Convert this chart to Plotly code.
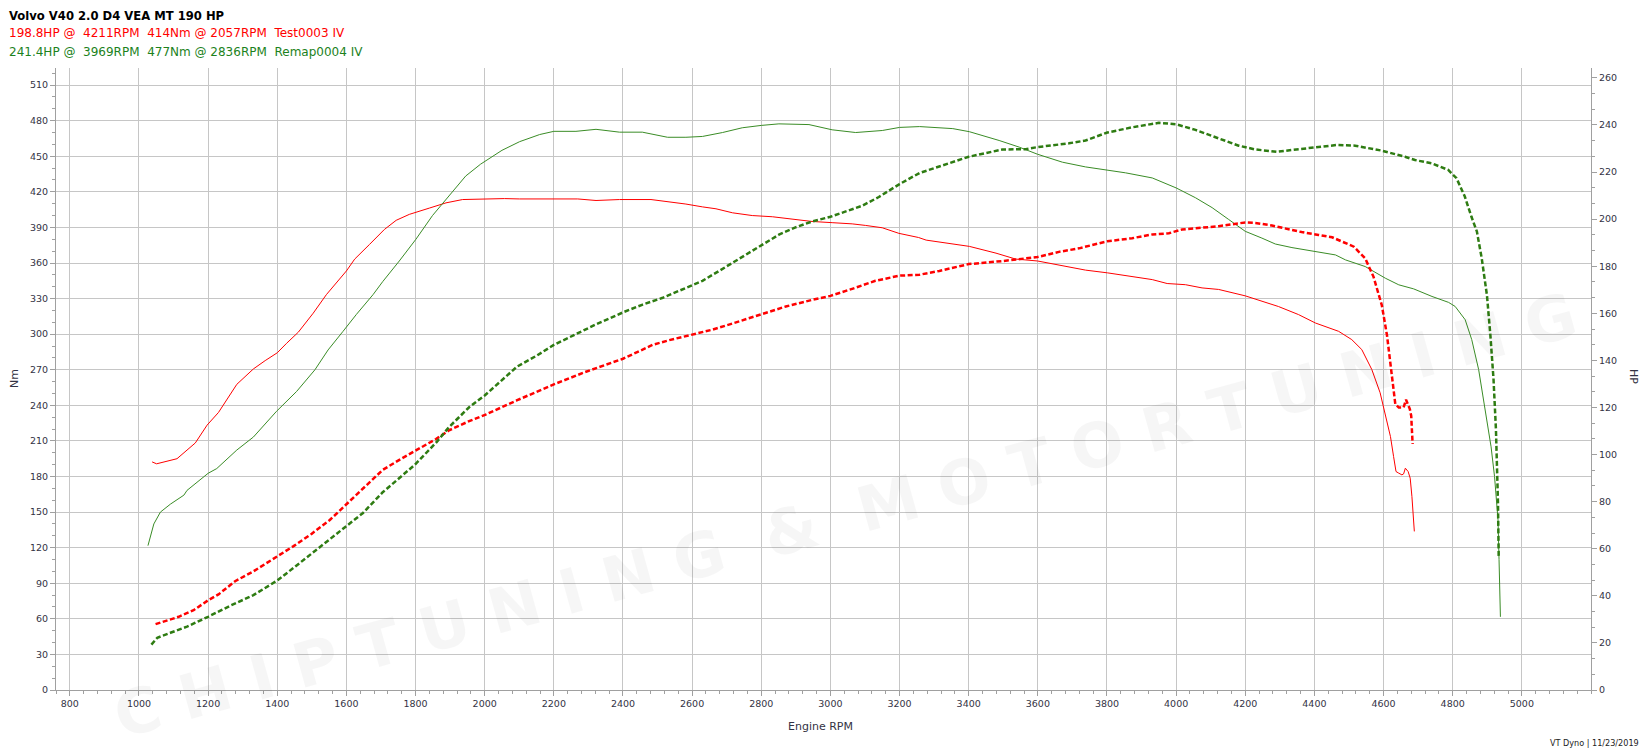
import plotly.graph_objects as go

# ---------------- data ----------------
# Test0003 (stock) torque, Nm
test_tq_rpm = [1038, 1051, 1110, 1139, 1163, 1197, 1230, 1283, 1331, 1365, 1400, 1427, 1461, 1504, 1542,
               1600, 1624, 1667, 1710, 1744, 1782, 1840, 1888, 1936, 2003, 2057, 2101, 2197, 2226, 2269,
               2322, 2390, 2481, 2534, 2582, 2630, 2669, 2717, 2774, 2832, 2890, 2947, 3005, 3063, 3101,
               3150, 3198, 3255, 3277, 3335, 3402, 3479, 3536, 3599, 3671, 3738, 3801, 3873, 3931, 3974,
               4027, 4075, 4123, 4200, 4248, 4296, 4354, 4403, 4470, 4508, 4537, 4566, 4590, 4605, 4620,
               4629, 4636, 4644, 4653, 4658, 4663, 4671, 4677, 4682, 4689]
test_tq_nm = [192.3, 190.7, 195.0, 202.7, 208.3, 223.3, 234.0, 257.7, 270.7, 277.7, 284.3, 292.3, 301.7, 317.7, 333.3,
              353.3, 363.3, 375.7, 388.3, 396.0, 401.0, 406.3, 410.7, 413.5, 414.0, 414.3, 414.0, 414.0, 413.5, 414.0,
              412.7, 413.5, 413.5, 411.7, 409.7, 407.3, 405.7, 402.3, 400.0, 399.0, 397.3, 395.0, 394.0, 393.0, 391.7,
              389.7, 385.0, 381.5, 379.3, 376.7, 374.0, 368.3, 363.3, 361.7, 357.7, 354.0, 351.7, 348.3, 346.0, 342.7,
              341.7, 339.0, 337.7, 332.3, 327.7, 323.3, 316.5, 309.4, 302.4, 295.4, 287.0, 270.2, 250.6, 231.0, 213.6,
              196.8, 184.2, 182.8, 181.4, 182.2, 187.0, 184.2, 178.6, 163.2, 133.7]

# Test0003 (stock) power, HP
test_hp_rpm = [1048, 1115, 1158, 1200, 1230, 1278, 1331, 1400, 1446, 1499, 1552, 1600, 1648, 1705, 1763,
               1801, 1859, 1897, 1955, 2003, 2094, 2200, 2293, 2400, 2486, 2534, 2600, 2660, 2717, 2800,
               2871, 2947, 3000, 3063, 3130, 3200, 3258, 3315, 3400, 3498, 3556, 3599, 3661, 3719, 3801,
               3873, 3931, 3979, 4017, 4075, 4123, 4200, 4229, 4277, 4315, 4363, 4412, 4451, 4514, 4547,
               4571, 4595, 4610, 4624, 4634, 4644, 4658, 4665, 4676, 4680, 4684]
test_hp = [28.0, 31.1, 33.9, 38.1, 40.6, 46.2, 50.4, 56.6, 61.0, 66.3, 72.2, 78.9, 85.6, 93.5, 98.6,
           101.9, 106.6, 110.3, 114.2, 117.0, 123.1, 129.8, 135.2, 140.7, 146.6, 148.6, 151.1, 153.1, 155.7, 159.5,
           162.9, 165.7, 167.4, 170.4, 173.8, 176.0, 176.4, 178.0, 180.9, 182.2, 183.0, 183.9, 186.1, 187.6, 190.6,
           191.9, 193.5, 194.0, 195.6, 196.5, 197.0, 198.6, 198.4, 197.3, 196.1, 194.5, 193.3, 192.3, 188.3, 183.3,
           175.5, 163.4, 150.6, 133.5, 121.4, 120.0, 120.0, 123.3, 119.3, 116.4, 104.5]

# Remap0004 torque, Nm
remap_tq_rpm = [1026, 1043, 1062, 1091, 1130, 1139, 1200, 1225, 1283, 1331, 1398, 1456, 1509, 1547, 1590,
                1629, 1677, 1705, 1753, 1801, 1849, 1897, 1945, 1988, 2050, 2101, 2159, 2200, 2264, 2322,
                2390, 2456, 2529, 2582, 2630, 2688, 2745, 2800, 2851, 2938, 3005, 3073, 3150, 3200, 3258,
                3354, 3402, 3488, 3546, 3599, 3671, 3738, 3801, 3854, 3931, 4000, 4056, 4104, 4152, 4200,
                4248, 4287, 4335, 4400, 4461, 4490, 4547, 4605, 4644, 4687, 4740, 4788, 4807, 4836, 4855,
                4875, 4889, 4904, 4911, 4921, 4931, 4934, 4936, 4938]
remap_tq_nm = [121.7, 140.0, 150.0, 156.7, 164.3, 168.3, 182.7, 186.7, 202.3, 213.3, 235.0, 251.7, 270.0, 286.7, 302.3,
               316.7, 333.3, 344.3, 361.7, 380.0, 400.0, 416.7, 433.3, 443.3, 455.0, 462.3, 468.3, 471.0, 471.0, 472.7,
               470.3, 470.3, 466.0, 466.0, 466.7, 470.0, 474.0, 476.0, 477.3, 476.7, 472.3, 470.0, 471.7, 474.3, 475.0,
               473.3, 470.7, 463.3, 457.7, 451.7, 445.0, 441.0, 438.3, 436.0, 431.7, 423.3, 415.0, 406.7, 396.7, 386.7,
               381.0, 376.0, 373.0, 370.0, 366.8, 362.6, 357.0, 347.2, 341.6, 338.2, 331.8, 326.8, 323.4, 312.2, 295.4,
               270.2, 245.0, 217.0, 205.0, 180.0, 143.6, 110.0, 87.5, 61.7]

# Remap0004 power, HP
remap_hp_rpm = [1036, 1053, 1091, 1139, 1200, 1264, 1331, 1400, 1456, 1513, 1600, 1648, 1705, 1798, 1859,
                1897, 1955, 2000, 2094, 2149, 2200, 2255, 2322, 2400, 2457, 2515, 2563, 2630, 2678, 2726,
                2800, 2851, 2899, 2947, 3000, 3044, 3092, 3140, 3200, 3258, 3315, 3400, 3498, 3565, 3599,
                3690, 3738, 3801, 3873, 3950, 4000, 4056, 4123, 4181, 4229, 4292, 4336, 4403, 4465, 4518,
                4595, 4662, 4691, 4739, 4787, 4811, 4835, 4854, 4870, 4884, 4899, 4909, 4918, 4925, 4931, 4933]
remap_hp = [19.3, 22.2, 24.3, 26.9, 31.1, 35.8, 40.3, 46.5, 52.9, 59.6, 69.7, 75.2, 84.0, 95.7, 105.0,
            111.7, 120.1, 125.1, 137.4, 141.9, 146.6, 150.6, 155.3, 160.4, 163.7, 166.6, 169.6, 173.8, 178.0, 182.2,
            188.6, 193.4, 196.5, 199.0, 201.0, 203.2, 205.7, 209.4, 214.9, 219.6, 222.5, 226.5, 229.6, 229.7, 230.6,
            232.2, 233.4, 236.8, 239.0, 240.9, 240.3, 237.9, 234.3, 231.2, 229.6, 228.6, 229.4, 230.5, 231.5, 231.2,
            229.1, 226.5, 225.1, 223.7, 220.9, 217.4, 209.6, 201.1, 194.7, 183.3, 167.7, 150.6, 132.1, 110.8, 79.3, 56.6]

x_ticks = [800, 1000, 1200, 1400, 1600, 1800, 2000, 2200, 2400, 2600, 2800, 3000,
           3200, 3400, 3600, 3800, 4000, 4200, 4400, 4600, 4800, 5000]
nm_ticks = [0, 30, 60, 90, 120, 150, 180, 210, 240, 270, 300, 330, 360, 390, 420, 450, 480, 510]
hp_ticks = [0, 20, 40, 60, 80, 100, 120, 140, 160, 180, 200, 220, 240, 260]

title_text = "Volvo V40 2.0 D4 VEA MT 190 HP"
test_text = "198.8HP @\u00a0\u00a04211RPM\u00a0\u00a0414Nm @ 2057RPM\u00a0\u00a0Test0003 IV"
remap_text = "241.4HP @\u00a0\u00a03969RPM\u00a0\u00a0477Nm @ 2836RPM\u00a0\u00a0Remap0004 IV"
footer_text = "VT Dyno | 11/23/2019"
watermark_text = "C H I P T U N I N G\u00a0\u00a0&\u00a0\u00a0M O T O R T U N I N G"

# ---------------- layout geometry ----------------
OFF = 8                     # default body margin of the page
FIG_W, FIG_H = 1640, 746
ML, MR, MT, MB = 48, 57, 60, 64
PW = FIG_W - ML - MR
PH = FIG_H - MT - MB


def px(x):
    return (x - OFF - ML) / PW


def py(y):
    return 1 - (y - OFF - MT) / PH


RED = "#ff0000"
GREEN_SOLID = "#3a8c26"
GREEN_DASH = "#2e7c12"
GRID = "#c6c6c6"
AXIS = "#a0a0a0"
TICKFONT = dict(family="DejaVu Sans", size=9.5, color="#333344")

fig = go.Figure()
fig.add_trace(go.Scatter(x=test_tq_rpm, y=test_tq_nm, mode="lines",
                         line=dict(color=RED, width=1), yaxis="y", name="Test0003 Nm"))
fig.add_trace(go.Scatter(x=remap_tq_rpm, y=remap_tq_nm, mode="lines",
                         line=dict(color=GREEN_SOLID, width=1), yaxis="y", name="Remap0004 Nm"))
fig.add_trace(go.Scatter(x=test_hp_rpm, y=test_hp, mode="lines",
                         line=dict(color=RED, width=2.5, dash="5px,2.5px"), yaxis="y2", name="Test0003 HP"))
fig.add_trace(go.Scatter(x=remap_hp_rpm, y=remap_hp, mode="lines",
                         line=dict(color=GREEN_DASH, width=2.5, dash="5px,2.5px"), yaxis="y2", name="Remap0004 HP"))

annotations = [
    dict(text="<b>" + title_text + "</b>", x=px(8), y=py(8), xanchor="left", yanchor="top", borderpad=0,
         font=dict(family="DejaVu Sans", size=11.6, color="#000000")),
    dict(text=test_text, x=px(7), y=py(33), xanchor="left", yanchor="middle",
         font=dict(family="DejaVu Sans", size=12, color=RED)),
    dict(text=remap_text, x=px(7), y=py(52), xanchor="left", yanchor="middle",
         font=dict(family="DejaVu Sans", size=12, color="#1c821c")),
    dict(text="Nm", x=px(14), y=py(379), xanchor="center", yanchor="middle", textangle=-90,
         font=dict(family="DejaVu Sans", size=11, color="#333344")),
    dict(text="HP", x=px(1633), y=py(376), xanchor="center", yanchor="middle", textangle=90,
         font=dict(family="DejaVu Sans", size=11, color="#333344")),
    dict(text="Engine RPM", x=px(820), y=py(726), xanchor="center", yanchor="middle",
         font=dict(family="DejaVu Sans", size=11, color="#333344")),
    dict(text=footer_text, x=px(1641), y=py(743), xanchor="right", yanchor="middle",
         font=dict(family="Liberation Sans Narrow, DejaVu Sans Condensed, Liberation Sans", size=9, color="#222222")),
    dict(text="<b>" + watermark_text + "</b>",
         x=px(845), y=py(515), xanchor="center", yanchor="middle", textangle=-15.5,
         font=dict(family="DejaVu Sans", size=62, color="rgba(0,0,0,0.035)")),
]
for a in annotations:
    a.update(xref="paper", yref="paper", showarrow=False)

fig.update_layout(
    width=FIG_W, height=FIG_H,
    margin=dict(l=ML, r=MR, t=MT, b=MB, pad=0),
    paper_bgcolor="white", plot_bgcolor="white",
    showlegend=False, hovermode=False,
    annotations=annotations,
    xaxis=dict(range=[760, 5200], tickvals=x_ticks, showgrid=True, gridcolor=GRID, gridwidth=1,
               zeroline=False, showline=True, linecolor=AXIS, linewidth=1,
               ticks="outside", ticklen=5, tickcolor=AXIS, tickfont=TICKFONT,
               minor=dict(tick0=800, dtick=40, ticks="outside", ticklen=3, tickcolor=AXIS, showgrid=False)),
    yaxis=dict(range=[0, 524.4], tickvals=nm_ticks, showgrid=True, gridcolor=GRID, gridwidth=1,
               zeroline=False, showline=True, linecolor=AXIS, linewidth=1,
               ticks="outside", ticklen=5, tickcolor=AXIS, tickfont=TICKFONT,
               minor=dict(tick0=0, dtick=10, ticks="outside", ticklen=3, tickcolor=AXIS, showgrid=False)),
    yaxis2=dict(range=[0, 264.2], tickvals=hp_ticks, overlaying="y", side="right", showgrid=False,
                zeroline=False, showline=True, linecolor=AXIS, linewidth=1,
                ticks="outside", ticklen=5, tickcolor=AXIS, tickfont=TICKFONT,
                minor=dict(tick0=0, dtick=20 / 3, ticks="outside", ticklen=3, tickcolor=AXIS, showgrid=False)),
)

fig.write_html("out.html")
